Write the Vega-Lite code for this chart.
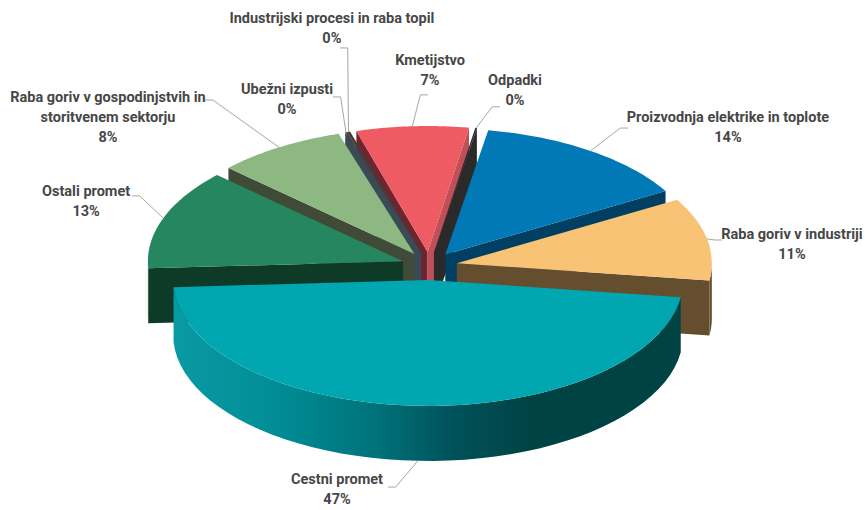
{
  "$schema": "https://vega.github.io/schema/vega-lite/v6.json",
  "width": 865,
  "height": 510,
  "padding": 0,
  "autosize": "none",
  "background": "white",
  "config": {"view": {"stroke": null}},
  "data": {"values": [
    {"n": 7, "name": "Kmetijstvo", "value": 7.1},
    {"n": 6, "name": "Industrijski procesi in raba topil", "value": 0.2},
    {"n": 5, "name": "Ubežni izpusti", "value": 0.1},
    {"n": 4, "name": "Raba goriv v gospodinjstvih in storitvenem sektorju", "value": 8.2},
    {"n": 8, "name": "Odpadki", "value": 0.1},
    {"n": 3, "name": "Ostali promet", "value": 12.9},
    {"n": 0, "name": "Proizvodnja elektrike in toplote", "value": 13.9},
    {"n": 1, "name": "Raba goriv v industriji", "value": 10.6},
    {"n": 2, "name": "Cestni promet", "value": 46.9}
  ]},
  "transform": [
    {"joinaggregate": [{"op": "sum", "field": "value", "as": "total"}]},
    {"window": [{"op": "sum", "field": "value", "as": "cum"}], "sort": [{"field": "n"}], "frame": [null, 0]},
    {"calculate": "(9.7 + 360 * (datum.cum - datum.value) / datum.total) * PI / 180", "as": "a0"},
    {"calculate": "(9.7 + 360 * datum.cum / datum.total) * PI / 180", "as": "a1"},
    {"calculate": "(datum.a0 + datum.a1) / 2", "as": "mid"},
    {"calculate": "0.11 * sin(datum.mid)", "as": "ax"},
    {"calculate": "0.055 * cos(datum.mid)", "as": "ay"}
  ],
  "encoding": {
    "x": {"field": "x", "type": "quantitative", "axis": null, "scale": {"domain": [-1.6835, 1.7086]}},
    "y": {"field": "y", "type": "quantitative", "axis": null, "scale": {"domain": [-0.9569, 1.0431]}}
  },
  "layer": [
    {
      "transform": [
        {"calculate": "[0, 1]", "as": "side"},
        {"flatten": ["side"]},
        {"filter": "datum.side == 0 ? sin(datum.a0) < 0 : sin(datum.a1) > 0"},
        {"calculate": "[0, 1, 2, 3]", "as": "corner"},
        {"flatten": ["corner"]},
        {"calculate": "datum.side == 0 ? datum.a0 : datum.a1", "as": "a"},
        {"calculate": "datum.ax + (datum.corner == 1 || datum.corner == 2 ? sin(datum.a) : 0)", "as": "x"},
        {"calculate": "datum.ay + (datum.corner == 1 || datum.corner == 2 ? 0.494 * cos(datum.a) : 0) - (datum.corner >= 2 ? 0.2157 : 0)", "as": "y"},
        {"calculate": "datum.name + '|' + datum.side", "as": "wall"}
      ],
      "mark": {"type": "line", "filled": true, "strokeWidth": 0},
      "encoding": {
        "order": {"field": "corner", "type": "quantitative"},
        "color": {
          "field": "wall",
          "type": "nominal",
          "legend": null,
          "scale": {
            "domain": [
              "Kmetijstvo|1", "Kmetijstvo|0",
              "Industrijski procesi in raba topil|0", "Ubežni izpusti|0",
              "Raba goriv v gospodinjstvih in storitvenem sektorju|0",
              "Odpadki|1", "Ostali promet|0",
              "Proizvodnja elektrike in toplote|1", "Raba goriv v industriji|1"
            ],
            "range": ["#bf4f58", "#6e2530", "#4a3a33", "#3a4a56", "#3f4a37", "#2a2a2a", "#0e3a28", "#003f62", "#644e2e"]
          }
        }
      }
    },
    {
      "transform": [
        {"filter": "datum.a1 > PI / 2 && datum.a0 < 3 * PI / 2 && datum.name != 'Cestni promet'"},
        {"calculate": "sequence(0, 98)", "as": "i"},
        {"flatten": ["i"]},
        {"calculate": "max(datum.a0, PI / 2)", "as": "b0"},
        {"calculate": "min(datum.a1, 3 * PI / 2)", "as": "b1"},
        {"calculate": "datum.b0 + (datum.b1 - datum.b0) * (datum.i <= 48 ? datum.i : 97 - datum.i) / 48", "as": "a"},
        {"calculate": "datum.ax + sin(datum.a)", "as": "x"},
        {"calculate": "datum.ay + 0.494 * cos(datum.a) - (datum.i <= 48 ? 0 : 0.2157)", "as": "y"}
      ],
      "mark": {"type": "line", "filled": true, "strokeWidth": 0},
      "encoding": {
        "order": {"field": "i", "type": "quantitative"},
        "color": {
          "field": "name",
          "type": "nominal",
          "legend": null,
          "scale": {"domain": ["Ostali promet", "Raba goriv v industriji"], "range": ["#0e3a28", "#644e2e"]}
        }
      }
    },
    {
      "transform": [
        {"filter": "datum.name == 'Cestni promet'"},
        {"calculate": "sequence(0, 98)", "as": "i"},
        {"flatten": ["i"]},
        {"calculate": "datum.a0 + (datum.a1 - datum.a0) * (datum.i <= 48 ? datum.i : 97 - datum.i) / 48", "as": "a"},
        {"calculate": "datum.ax + sin(datum.a)", "as": "x"},
        {"calculate": "datum.ay + 0.494 * cos(datum.a) - (datum.i <= 48 ? 0 : 0.2157)", "as": "y"}
      ],
      "mark": {
        "type": "line",
        "filled": true,
        "strokeWidth": 0,
        "fill": {
          "gradient": "linear",
          "x1": 0, "y1": 0, "x2": 1, "y2": 0,
          "stops": [
            {"offset": 0, "color": "#0a9aa3"},
            {"offset": 0.2, "color": "#008d96"},
            {"offset": 0.4, "color": "#00727a"},
            {"offset": 0.55, "color": "#00525a"},
            {"offset": 0.7, "color": "#004345"},
            {"offset": 1, "color": "#004345"}
          ]
        }
      },
      "encoding": {"order": {"field": "i", "type": "quantitative"}}
    },
    {
      "transform": [
        {"calculate": "sequence(0, 50)", "as": "i"},
        {"flatten": ["i"]},
        {"calculate": "datum.a0 + (datum.a1 - datum.a0) * (datum.i - 1) / 48", "as": "a"},
        {"calculate": "datum.ax + (datum.i == 0 ? 0 : sin(datum.a))", "as": "x"},
        {"calculate": "datum.ay + (datum.i == 0 ? 0 : 0.494 * cos(datum.a))", "as": "y"}
      ],
      "mark": {"type": "line", "filled": true, "strokeWidth": 0},
      "encoding": {
        "order": {"field": "i", "type": "quantitative"},
        "color": {
          "field": "name",
          "type": "nominal",
          "legend": null,
          "scale": {
            "domain": [
              "Proizvodnja elektrike in toplote", "Raba goriv v industriji", "Cestni promet", "Ostali promet",
              "Raba goriv v gospodinjstvih in storitvenem sektorju", "Ubežni izpusti",
              "Industrijski procesi in raba topil", "Kmetijstvo", "Odpadki"
            ],
            "range": ["#0079b6", "#f8c374", "#00a7b1", "#268660", "#8db881", "#3a4a56", "#4a3a33", "#ef5b63", "#2a2a2a"]
          }
        }
      }
    },
    {
      "transform": [
        {"calculate": "[0, 1, 2]", "as": "k"},
        {"flatten": ["k"]},
        {"calculate": "[0.779, 1.148, -0.162, -1.166, -0.879, -0.378, -0.35, -0.005, 0.277][datum.n]", "as": "ex"},
        {"calculate": "[0.541, 0.102, -0.867, 0.275, 0.651, 0.663, 0.855, 0.671, 0.624][datum.n]", "as": "ey"},
        {"calculate": "datum.ax + sin(datum.mid)", "as": "rx"},
        {"calculate": "datum.ay + 0.494 * cos(datum.mid) - (cos(datum.mid) < 0 ? 0.2157 : 0)", "as": "ry"},
        {"calculate": "datum.k == 0 ? datum.rx : datum.k == 1 ? datum.ex + (datum.rx > datum.ex ? 0.03 : -0.03) : datum.ex", "as": "x"},
        {"calculate": "datum.k == 0 ? datum.ry : datum.ey", "as": "y"}
      ],
      "mark": {"type": "line", "color": "#a6a6a6", "strokeWidth": 1},
      "encoding": {
        "order": {"field": "k", "type": "quantitative"},
        "detail": {"field": "name", "type": "nominal"}
      }
    },
    {
      "transform": [
        {"calculate": "[1.171, 1.422, -0.362, -1.346, -1.26, -0.558, -0.382, 0.003, 0.336][datum.n]", "as": "x"},
        {"calculate": "[0.608, 0.149, -0.812, 0.318, 0.686, 0.718, 0.996, 0.831, 0.753][datum.n]", "as": "y"},
        {"calculate": "replace(datum.name, ' in storitvenem', ' in\\nstoritvenem') + '\\n' + format(datum.value, '.0f') + '%'", "as": "label"}
      ],
      "mark": {
        "type": "text",
        "font": "Roboto",
        "fontWeight": "bold",
        "fontSize": 14.5,
        "lineHeight": 20,
        "color": "#474747",
        "align": "center",
        "baseline": "top",
        "lineBreak": "\n"
      },
      "encoding": {"text": {"field": "label", "type": "nominal"}}
    }
  ],
  "resolve": {"scale": {"color": "independent"}}
}
